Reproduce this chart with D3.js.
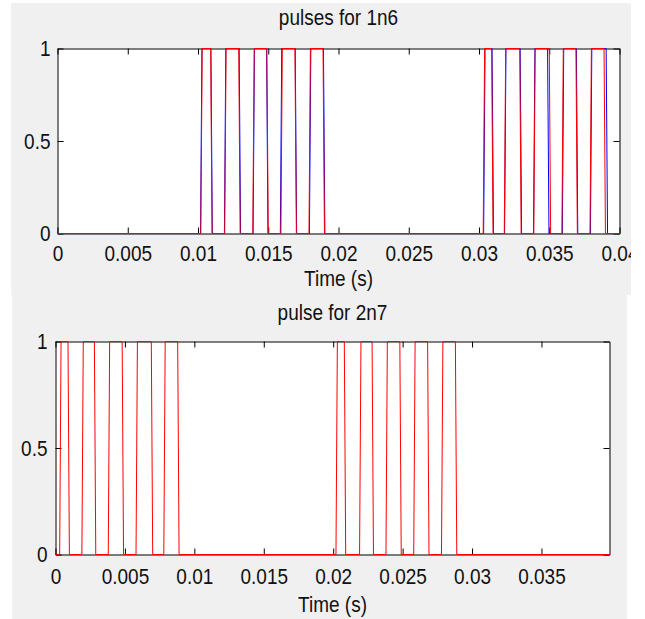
<!DOCTYPE html>
<html>
<head>
<meta charset="utf-8">
<script src="https://cdn.jsdelivr.net/npm/d3@7"></script>
<style>
  body { margin: 0; background: #fff; }
  svg { display: block; }
  text { font-family: "Liberation Sans", Arial, sans-serif; font-size: 19px; fill: #111; }
</style>
</head>
<body>
<svg id="chart" width="645" height="619"></svg>
<script>
// simulation step of the sampled pulse signals (s)
const dt = 0.0001;

// pulses for 1n6: [rise, fall] times (s)
const pulses1n6Blue = [
  [0.01018, 0.01092], [0.01188, 0.01293], [0.01392, 0.01488], [0.01586, 0.01692], [0.01793, 0.01893],
  [0.03033, 0.03093], [0.03182, 0.03293], [0.03388, 0.03488], [0.03593, 0.03693], [0.03793, 0.03905]
];
const pulses1n6Red = [
  [0.0102, 0.0109], [0.0119, 0.0129], [0.0139, 0.0149], [0.0159, 0.0169], [0.0179, 0.0189],
  [0.0303, 0.0309], [0.0318, 0.0329], [0.0339, 0.0350], [0.0359, 0.0369], [0.0379, 0.0389]
];
const ticks1n6X = [0, 0.005, 0.01, 0.015, 0.02, 0.025, 0.03, 0.035, 0.04];
const labels1n6X = ["0", "0.005", "0.01", "0.015", "0.02", "0.025", "0.03", "0.035", "0.04"];

// pulse for 2n7
const pulses2n7Red = [
  [0.0003, 0.0009], [0.0019, 0.0028], [0.0038, 0.0048], [0.0058, 0.0069], [0.0078, 0.0088],
  [0.0202, 0.0208], [0.0219, 0.0228], [0.0238, 0.0248], [0.0258, 0.0268], [0.0278, 0.0288]
];
const ticks2n7X = [0, 0.005, 0.01, 0.015, 0.02, 0.025, 0.03, 0.035];
const labels2n7X = ["0", "0.005", "0.01", "0.015", "0.02", "0.025", "0.03", "0.035"];

const ticksY = [0, 0.5, 1];
const labelsY = ["0", "0.5", "1"];

class pulsePlot {

  constructor(_config, _data) {
    this.config = {
      parentElement: _config.parentElement,
      id: _config.id,
      figure: _config.figure,   // grey figure background
      box: _config.box,         // axes box, absolute px
      xMax: _config.xMax,
      xTicks: _config.xTicks,
      xLabels: _config.xLabels,
      title: _config.title,
      titleY: _config.titleY,
      xTitle: _config.xTitle || 'Time (s)',
      xTitleY: _config.xTitleY,
      xPadding: _config.xPadding || 12,
      yPadding: _config.yPadding || 7,
      tickLength: _config.tickLength || 6,
      stretch: _config.stretch || 1.15
    };
    this.data = _data;
    this.initVis();
  }

  initVis() {
    let vis = this;
    const f = vis.config.figure;
    const b = vis.config.box;
    const st = `scale(1,${vis.config.stretch})`;

    vis.width = b.right - b.left;
    vis.height = b.bottom - b.top;

    vis.svg = d3.select(vis.config.parentElement);

    // the screenshot cuts everything at the figure border
    vis.svg.append('clipPath')
        .attr('id', `clip-${vis.config.id}`)
      .append('rect')
        .attr('x', f.x).attr('y', f.y)
        .attr('width', f.w).attr('height', f.h);

    vis.fig = vis.svg.append('g')
        .attr('clip-path', `url(#clip-${vis.config.id})`);

    vis.fig.append('rect')
        .attr('x', f.x).attr('y', f.y)
        .attr('width', f.w).attr('height', f.h)
        .attr('fill', '#f0f0f0');

    vis.chart = vis.fig.append('g')
        .attr('transform', `translate(${b.left},${b.top})`);

    vis.chart.append('rect')
        .attr('width', vis.width)
        .attr('height', vis.height)
        .attr('fill', '#fff');

    vis.xScale = d3.scaleLinear()
        .domain([0, vis.config.xMax])
        .range([0, vis.width]);

    vis.yScale = d3.scaleLinear()
        .domain([0, 1])
        .range([vis.height, 0]);

    const tl = -vis.config.tickLength;

    // ticks point inwards on all four sides, like matlab's box on
    vis.xAxis = d3.axisBottom(vis.xScale)
        .tickValues(vis.config.xTicks)
        .tickFormat((d, i) => vis.config.xLabels[i])
        .tickSize(tl).tickSizeOuter(0).tickPadding(0);
    vis.xAxisTop = d3.axisTop(vis.xScale)
        .tickValues(vis.config.xTicks)
        .tickFormat('')
        .tickSize(tl).tickSizeOuter(0);
    vis.yAxis = d3.axisLeft(vis.yScale)
        .tickValues(ticksY)
        .tickFormat((d, i) => labelsY[i])
        .tickSize(tl).tickSizeOuter(0).tickPadding(vis.config.yPadding);
    vis.yAxisRight = d3.axisRight(vis.yScale)
        .tickValues(ticksY)
        .tickFormat('')
        .tickSize(tl).tickSizeOuter(0);

    vis.xAxisG = vis.chart.append('g')
        .attr('class', 'axis x-axis')
        .attr('transform', `translate(0,${vis.height})`);
    vis.xAxisTopG = vis.chart.append('g')
        .attr('class', 'axis x-axis-top');
    vis.yAxisG = vis.chart.append('g')
        .attr('class', 'axis y-axis');
    vis.yAxisRightG = vis.chart.append('g')
        .attr('class', 'axis y-axis-right')
        .attr('transform', `translate(${vis.width},0)`);

    vis.line = d3.line()
        .x(d => vis.xScale(d[0]))
        .y(d => vis.yScale(d[1]));

    // titles, slightly stretched vertically like the exported figure
    vis.fig.append('text')
        .attr('text-anchor', 'middle')
        .attr('transform', `translate(${b.left + vis.width / 2},${vis.config.titleY}) ${st}`)
        .text(vis.config.title);

    vis.fig.append('text')
        .attr('text-anchor', 'middle')
        .attr('transform', `translate(${b.left + vis.width / 2},${vis.config.xTitleY}) ${st}`)
        .text(vis.config.xTitle);

    vis.updateVis();
  }

  updateVis() {
    let vis = this;
    const xMax = vis.config.xMax;

    // sampled square waves: each edge ramps over one simulation step
    vis.series = vis.data.map(s => {
      const pts = [[0, 0]];
      s.pulses.forEach(p => {
        pts.push([p[0], 0], [p[0] + dt, 1], [p[1], 1], [p[1] + dt, 0]);
      });
      pts.push([xMax, 0]);
      return { color: s.color, points: pts };
    });

    vis.renderVis();
  }

  renderVis() {
    let vis = this;
    const st = `scale(1,${vis.config.stretch})`;

    vis.xAxisG.call(vis.xAxis);
    vis.xAxisTopG.call(vis.xAxisTop);
    vis.yAxisG.call(vis.yAxis);
    vis.yAxisRightG.call(vis.yAxisRight);

    vis.chart.selectAll('.axis path, .axis line')
        .attr('stroke', '#000')
        .attr('stroke-width', 1);
    vis.chart.selectAll('.axis text')
        .attr('fill', '#111')
        .style('font-size', '19px')
        .style('font-family', '"Liberation Sans", Arial, sans-serif');

    vis.xAxisG.selectAll('text')
        .attr('y', 0)
        .attr('transform', `translate(0,${vis.config.xPadding}) ${st}`);
    vis.yAxisG.selectAll('text')
        .attr('transform', st);

    vis.chart.selectAll('.signal')
        .data(vis.series)
      .join('path')
        .attr('class', 'signal')
        .attr('d', d => vis.line(d.points))
        .attr('fill', 'none')
        .attr('stroke', d => d.color)
        .attr('stroke-width', 1);
  }
}

new pulsePlot({
  parentElement: '#chart',
  id: 'p1n6',
  figure: { x: 11, y: 3, w: 620, h: 292 },
  box: { left: 57.5, top: 48.5, right: 619.5, bottom: 233.5 },
  xMax: 0.04,
  xTicks: ticks1n6X,
  xLabels: labels1n6X,
  title: 'pulses for 1n6',
  titleY: 25,
  xTitleY: 286,
  xPadding: 12,
  yPadding: 7
}, [
  { pulses: pulses1n6Blue, color: '#0000ff' },
  { pulses: pulses1n6Red, color: '#ff0000' }
]);

new pulsePlot({
  parentElement: '#chart',
  id: 'p2n7',
  figure: { x: 12, y: 295, w: 615, h: 324 },
  box: { left: 55.5, top: 341.5, right: 609.5, bottom: 554.5 },
  xMax: 0.0399,
  xTicks: ticks2n7X,
  xLabels: labels2n7X,
  title: 'pulse for 2n7',
  titleY: 320,
  xTitleY: 612,
  xPadding: 14,
  yPadding: 8
}, [
  { pulses: pulses2n7Red, color: '#ff0000' }
]);
</script>
</body>
</html>
